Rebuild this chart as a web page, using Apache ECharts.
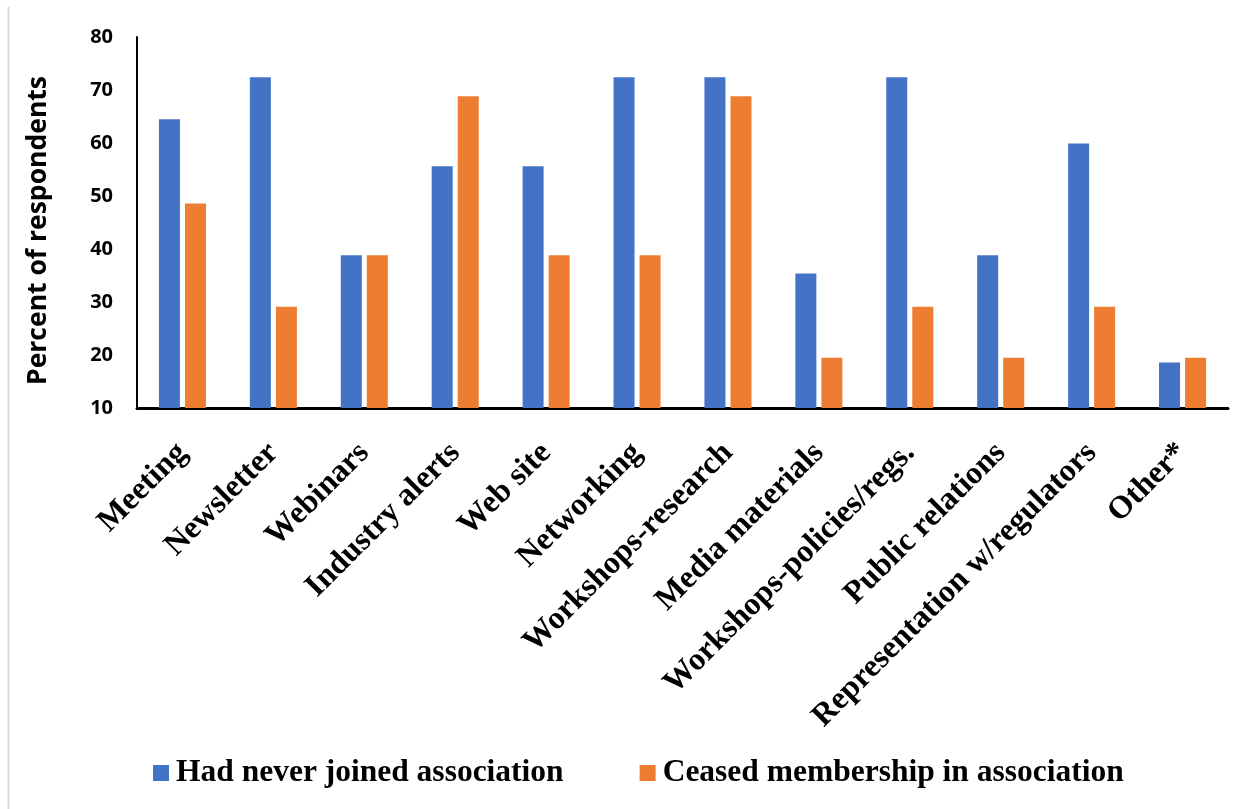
<!DOCTYPE html>
<html>
<head>
<meta charset="utf-8">
<script src="https://cdn.jsdelivr.net/npm/echarts@6/dist/echarts.min.js"></script>
<style>
  html, body { margin: 0; padding: 0; background: #ffffff; }
  #chart { width: 1251px; height: 809px; }
</style>
</head>
<body>
<div id="chart"></div>
<script>
// Services used by respondents, by membership status (percent)
const categories = [
  'Meeting', 'Newsletter', 'Webinars', 'Industry alerts', 'Web site', 'Networking',
  'Workshops-research', 'Media materials', 'Workshops-policies/regs.', 'Public relations',
  'Representation w/regulators', 'Other*'
];
const neverJoined = [64.5, 72.4, 38.8, 55.6, 55.6, 72.4, 72.4, 35.4, 72.4, 38.8, 59.9, 18.6];
const ceasedMembership = [48.6, 29.1, 38.8, 68.8, 38.8, 38.8, 68.8, 19.5, 29.1, 19.5, 29.1, 19.5];
const seriesNames = ['Had never joined association', 'Ceased membership in association'];
const yTicks = { min: 10, max: 80, interval: 10 };

const serif = '"Liberation Serif", "Times New Roman", serif';
const sans = '"Open Sans", "Noto Sans", sans-serif';

const chart = echarts.init(document.getElementById('chart'), null, { renderer: 'canvas' });

chart.setOption({
  backgroundColor: '#ffffff',
  animation: false,
  grid: { left: 137, right: 23, top: 37, bottom: 401, containLabel: false },
  graphic: [{
    type: 'line',
    shape: { x1: 8.5, y1: 7, x2: 8.5, y2: 809 },
    style: { stroke: '#d9d9d9', lineWidth: 2 },
    silent: true
  }],
  legend: {
    data: seriesNames,
    left: 148,
    top: 752,
    icon: 'rect',
    itemWidth: 16,
    itemHeight: 16,
    itemGap: 76,
    textStyle: { fontFamily: serif, fontWeight: 'bold', fontSize: 31.5, color: '#000000', padding: [0, 0, 0, 2] }
  },
  xAxis: {
    type: 'category',
    data: categories,
    axisLine: { show: true, lineStyle: { color: '#000000', width: 3 } },
    axisTick: { show: false },
    axisLabel: {
      rotate: 45,
      interval: 0,
      margin: 40,
      fontFamily: serif,
      fontWeight: 'bold',
      fontSize: 32,
      color: '#000000'
    }
  },
  yAxis: {
    type: 'value',
    min: yTicks.min,
    max: yTicks.max,
    interval: yTicks.interval,
    name: 'Percent of respondents',
    nameLocation: 'middle',
    nameGap: 85,
    nameTextStyle: { fontFamily: sans, fontWeight: 'bold', fontSize: 26.5, color: '#000000', padding: [0, 16, 0, 0] },
    axisLine: { show: true, lineStyle: { color: '#000000', width: 2 } },
    axisTick: { show: false },
    splitLine: { show: false },
    axisLabel: {
      margin: 24,
      fontFamily: sans,
      fontWeight: 'bold',
      fontSize: 20,
      color: '#000000'
    }
  },
  series: [
    {
      name: seriesNames[0],
      type: 'bar',
      data: neverJoined,
      barWidth: 21,
      barGap: '24%',
      itemStyle: { color: '#4472C4' }
    },
    {
      name: seriesNames[1],
      type: 'bar',
      data: ceasedMembership,
      barWidth: 21,
      barGap: '24%',
      itemStyle: { color: '#ED7D31' }
    }
  ]
});
</script>
</body>
</html>
